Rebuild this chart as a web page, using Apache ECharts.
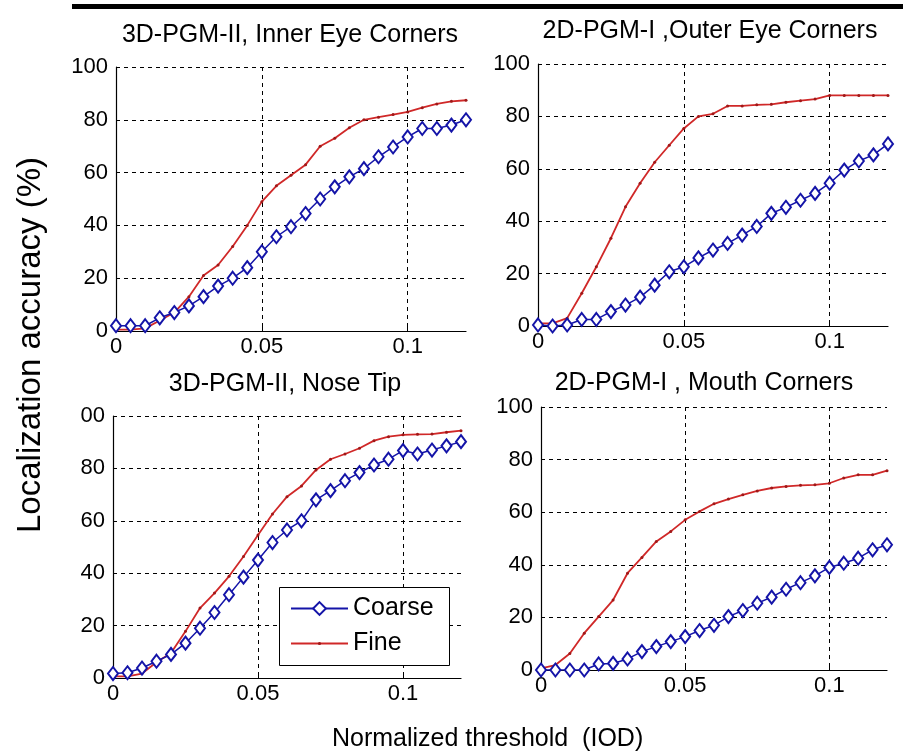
<!DOCTYPE html>
<html>
<head>
<meta charset="utf-8">
<title>Localization accuracy vs normalized threshold</title>
<script src="https://cdn.jsdelivr.net/npm/echarts@6/dist/echarts.min.js"></script>
<style>
  html, body { margin: 0; padding: 0; background: #fff; }
  #chart { width: 903px; height: 756px; }
</style>
</head>
<body>
<div id="chart"></div>
<script>
// Normalized threshold (IOD) sample points shared by every curve
const thresholds = [0, 0.005, 0.01, 0.015, 0.02, 0.025, 0.03, 0.035, 0.04, 0.045,
  0.05, 0.055, 0.06, 0.065, 0.07, 0.075, 0.08, 0.085, 0.09, 0.095,
  0.1, 0.105, 0.11, 0.115, 0.12];

// Panel titles
const titles = [
  '3D-PGM-II, Inner Eye Corners',
  '2D-PGM-I ,Outer Eye Corners',
  '3D-PGM-II, Nose Tip',
  '2D-PGM-I , Mouth Corners'
];

// Localization accuracy (%) per panel
const innerEyeCoarse = [2, 2, 2, 5, 7, 9.5, 13, 17, 20, 24, 30, 35.7, 39.5, 44.5, 50, 54.6, 58.4, 61.5, 66, 69.7, 73.5, 76.7, 76.7, 78, 80];
const innerEyeFine   = [0.5, 0.5, 1, 4, 7, 13, 21, 25, 32, 40, 49, 55, 59, 63, 70, 73, 77, 80, 81, 82, 83, 84.6, 86, 87, 87.4];

const outerEyeCoarse = [0.4, 0, 0.4, 2.5, 2.5, 5.5, 8, 11, 15.6, 20.7, 22.6, 26, 29, 31.5, 34.7, 38, 43, 45.3, 48, 50.6, 54.5, 59.5, 63, 65.3, 69.5];
const outerEyeFine   = [1, 1, 3, 12.5, 22.6, 33.5, 45.5, 54.5, 62.5, 69, 75.4, 80, 81, 84, 84, 84.4, 84.6, 85.4, 86, 86.6, 88, 88, 88, 88, 88];

const noseTipCoarse  = [1.7, 2, 3.8, 6.4, 9, 13.3, 19, 25, 31.8, 38.5, 45, 51.7, 56.5, 60, 68, 71.5, 75.3, 78.4, 81.3, 83.5, 86.8, 85.5, 87, 88.6, 90.2];
const noseTipFine    = [0.6, 0.6, 1.7, 6, 9.5, 17.8, 26.7, 32.4, 38.8, 46.4, 54.6, 62.6, 69.2, 73.3, 79.4, 83.5, 85.5, 87.7, 90.6, 92.1, 92.8, 93, 93.1, 93.8, 94.4];

const mouthCoarse    = [0, 0, 0, 0, 2.3, 2.5, 4.2, 7, 8.9, 10.8, 12.7, 15, 17, 20.3, 22.6, 25.4, 27.7, 30.7, 33.2, 35.8, 39, 40.6, 42.5, 45.7, 47.6];
const mouthFine      = [0.6, 1.9, 6.3, 14, 20.3, 26.6, 36.8, 42.8, 48.9, 52.7, 57.1, 60.3, 63.2, 65, 66.6, 68.1, 69.2, 69.8, 70.2, 70.4, 71, 73, 74.2, 74.2, 75.8];

// Axis tick labels
const xTickLabels = { 0: '0', 0.05: '0.05', 0.1: '0.1' };
const yTickLabelsFull = { 0: '0', 20: '20', 40: '40', 60: '60', 80: '80', 100: '100' };
const yTickLabelsNose = { 0: '0', 20: '20', 40: '40', 60: '60', 80: '80', 100: '00' };

const seriesNames = ['Coarse', 'Fine'];
const axisTitleX = 'Normalized threshold  (IOD)';
const axisTitleY = 'Localization accuracy (%)';

const panelCoarse = [innerEyeCoarse, outerEyeCoarse, noseTipCoarse, mouthCoarse];
const panelFine = [innerEyeFine, outerEyeFine, noseTipFine, mouthFine];
const panelYLabels = [yTickLabelsFull, yTickLabelsFull, yTickLabelsNose, yTickLabelsFull];

const FONT = "'Liberation Sans', Arial, sans-serif";
const BLUE = '#1414a8';
const RED = '#d02828';

// Plot rectangles for the 2x2 layout
const grids = [
  { left: 116, top: 67, width: 350, height: 264 },
  { left: 538, top: 64, width: 350, height: 262 },
  { left: 113, top: 416, width: 348, height: 262 },
  { left: 541, top: 407, width: 346, height: 263 }
];
const titleCenters = [[290, 38], [710, 34], [285, 387], [704, 386]];

// Legend box inside the nose-tip panel
const legendBox = { x: 279, y: 587, width: 170, height: 78 };

const pairs = (ys) => thresholds.map((x, i) => [x, ys[i]]);

const dashed = { show: true, lineStyle: { color: '#000', type: [4, 4], width: 1 } };

const legendText = { fontFamily: FONT, fontSize: 25, color: '#000', lineHeight: 25 };

const option = {
  backgroundColor: '#fff',
  animation: false,
  textStyle: { fontFamily: FONT },
  title: titles.map((t, i) => ({
    text: t,
    left: titleCenters[i][0],
    top: titleCenters[i][1] - 15,
    textAlign: 'center',
    padding: 0,
    textStyle: { fontFamily: FONT, fontSize: 25, fontWeight: 'normal', color: '#000' }
  })),
  grid: grids.map(g => Object.assign({ containLabel: false }, g)),
  xAxis: grids.map((g, i) => ({
    type: 'value',
    gridIndex: i,
    min: 0,
    max: 0.12,
    interval: 0.05,
    axisLine: { show: true, onZero: false, lineStyle: { color: '#000', width: 1.2 } },
    axisTick: { show: true, inside: true, length: 4, lineStyle: { color: '#000' } },
    axisLabel: {
      show: true, margin: 5, color: '#000', fontFamily: FONT, fontSize: 22,
      showMaxLabel: false,
      formatter: v => xTickLabels[Math.round(v * 1000) / 1000] ?? ''
    },
    splitLine: Object.assign({ showMinLine: false, showMaxLine: false }, dashed)
  })),
  yAxis: grids.map((g, i) => ({
    type: 'value',
    gridIndex: i,
    min: 0,
    max: 100,
    interval: 20,
    axisLine: { show: true, onZero: false, lineStyle: { color: '#000', width: 1.2 } },
    axisTick: { show: true, inside: true, length: 4, lineStyle: { color: '#000' } },
    axisLabel: {
      show: true, margin: 8, color: '#000', fontFamily: FONT, fontSize: 22,
      formatter: v => panelYLabels[i][v] ?? ''
    },
    splitLine: Object.assign({ showMinLine: false, showMaxLine: true }, dashed)
  })),
  legend: [
    {
      data: [seriesNames[0]],
      left: legendBox.x + 11,
      top: legendBox.y + 9,
      padding: 0,
      itemWidth: 57,
      itemHeight: 16,
      selectedMode: false,
      textStyle: legendText,
      z: 11
    },
    {
      data: [seriesNames[1]],
      left: legendBox.x + 11,
      top: legendBox.y + 44,
      padding: 0,
      itemWidth: 57,
      itemHeight: 4,
      selectedMode: false,
      textStyle: legendText,
      z: 11
    }
  ],
  graphic: [
    {
      type: 'rect',
      shape: { x: 72, y: 4, width: 831, height: 5 },
      style: { fill: '#000' }
    },
    {
      type: 'rect',
      z: 10,
      shape: { x: legendBox.x + 0.5, y: legendBox.y + 0.5, width: legendBox.width, height: legendBox.height },
      style: { fill: '#fff', stroke: '#000', lineWidth: 1 }
    },
    {
      type: 'text',
      left: 332,
      top: 727,
      style: { text: axisTitleX, font: "25px " + FONT, fill: '#000' }
    },
    {
      type: 'text',
      x: 14,
      y: 345,
      rotation: Math.PI / 2,
      style: { text: axisTitleY, font: "33px " + FONT, fill: '#000', align: 'center', verticalAlign: 'top' }
    }
  ],
  series: []
};

for (let i = 0; i < 4; i++) {
  option.series.push({
    name: seriesNames[1],
    type: 'line',
    xAxisIndex: i,
    yAxisIndex: i,
    data: pairs(panelFine[i]),
    symbol: 'circle',
    symbolSize: 3,
    showSymbol: true,
    lineStyle: { color: RED, width: 1.8 },
    itemStyle: { color: '#a01818', borderWidth: 0 },
    z: 3
  });
  option.series.push({
    name: seriesNames[0],
    type: 'line',
    xAxisIndex: i,
    yAxisIndex: i,
    data: pairs(panelCoarse[i]),
    symbol: 'emptyDiamond',
    symbolSize: [10, 13],
    showSymbol: true,
    lineStyle: { color: BLUE, width: 1.5 },
    itemStyle: { color: BLUE, borderColor: BLUE, borderWidth: 1.5 },
    z: 4
  });
}

const chart = echarts.init(document.getElementById('chart'), null, { renderer: 'canvas' });
chart.setOption(option);
</script>
</body>
</html>
